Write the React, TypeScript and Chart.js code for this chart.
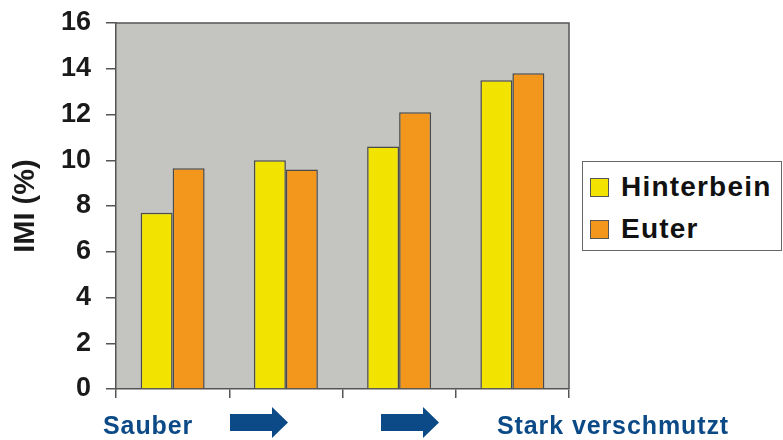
import React, { useEffect, useRef } from "react";
import { Chart, registerables } from "chart.js";

Chart.register(...registerables);

const categories = ["1", "2", "3", "4"];
const hinterbein = [7.7, 10.0, 10.6, 13.5];
const euter = [9.65, 9.6, 12.1, 13.8];
const seriesNames = ["Hinterbein", "Euter"];
const seriesColors = ["#f2e400", "#f2961c"];
const yMin = 0;
const yMax = 16;
const yStep = 2;
const yTitle = "IMI (%)";
const startLabel = "Sauber";
const endLabel = "Stark verschmutzt";

const FONT = "'Liberation Sans', Arial, Helvetica, sans-serif";
const BLUE = "#0b4a86";
const AXIS = "#555555";

const plotFrame = {
  id: "plotFrame",
  beforeDraw(chart: any) {
    const { ctx, chartArea: a } = chart;
    ctx.save();
    ctx.fillStyle = "#c4c4c0";
    ctx.fillRect(a.left, a.top, a.right - a.left, a.bottom - a.top);
    ctx.restore();
  },
  beforeDatasetsDraw(chart: any) {
    const { ctx, chartArea: a } = chart;
    ctx.save();
    ctx.strokeStyle = AXIS;
    ctx.lineWidth = 1.5;
    ctx.beginPath();
    ctx.moveTo(a.left, a.top);
    ctx.lineTo(a.right, a.top);
    ctx.lineTo(a.right, a.bottom);
    ctx.stroke();
    ctx.restore();
  },
};

function Arrow({ left }: { left: number }) {
  return (
    <svg
      style={{ position: "absolute", left, top: 407 }}
      width={60}
      height={31}
      viewBox="0 0 60 31"
    >
      <polygon points="0,7 42,7 42,0 58,15.5 42,31 42,24 0,24" fill={BLUE} />
    </svg>
  );
}

export default function App() {
  const ref = useRef<HTMLCanvasElement | null>(null);

  useEffect(() => {
    document.body.style.margin = "0";
    const canvas = ref.current;
    if (!canvas) return;
    const chart = new Chart(canvas, {
      type: "bar",
      data: {
        labels: categories,
        datasets: [
          {
            label: seriesNames[0],
            data: hinterbein,
            backgroundColor: seriesColors[0],
            borderColor: "#4a4a4a",
            borderWidth: 1.5,
          },
          {
            label: seriesNames[1],
            data: euter,
            backgroundColor: seriesColors[1],
            borderColor: "#4a4a4a",
            borderWidth: 1.5,
          },
        ],
      },
      options: {
        responsive: false,
        animation: false,
        devicePixelRatio: 1,
        datasets: {
          bar: { categoryPercentage: 0.565, barPercentage: 1 },
        },
        layout: { padding: { top: 23, right: 214, bottom: 0, left: 0 } },
        plugins: {
          legend: { display: false },
          tooltip: { enabled: false },
        },
        scales: {
          x: {
            grid: {
              offset: true,
              drawOnChartArea: false,
              tickLength: 9,
              color: AXIS,
              lineWidth: 1.5,
            },
            border: { display: true, color: AXIS, width: 1.5 },
            ticks: { display: false },
            afterFit(scale: any) {
              scale.height = 51;
              scale.paddingLeft = 0;
              scale.paddingRight = 0;
            },
          },
          y: {
            min: yMin,
            max: yMax,
            ticks: {
              stepSize: yStep,
              padding: 15,
              color: "#1a1a1a",
              font: { family: FONT, size: 27, weight: "bold" },
            },
            grid: {
              drawOnChartArea: false,
              tickLength: 10,
              color: AXIS,
              lineWidth: 1.5,
            },
            border: { display: true, color: AXIS, width: 1.5 },
            title: {
              display: true,
              text: yTitle,
              color: "#1a1a1a",
              padding: { top: 9, bottom: 0 },
              font: { family: FONT, size: 29, weight: "bold" },
            },
            afterFit(scale: any) {
              scale.width = 116;
              scale.paddingTop = 0;
              scale.paddingBottom = 0;
            },
          },
        },
      },
      plugins: [plotFrame],
    });
    return () => chart.destroy();
  }, []);

  const blueText: React.CSSProperties = {
    position: "absolute",
    top: 410,
    color: BLUE,
    fontFamily: FONT,
    fontWeight: "bold",
    fontSize: 25,
    lineHeight: "30px",
    letterSpacing: "0.9px",
    whiteSpace: "nowrap",
  };

  return (
    <div
      style={{
        position: "fixed",
        left: 0,
        top: 0,
        width: 783,
        height: 440,
        background: "#ffffff",
        overflow: "hidden",
      }}
    >
      <canvas ref={ref} width={783} height={440} style={{ position: "absolute", left: 0, top: 0 }} />
      <div
        style={{
          position: "absolute",
          left: 582,
          top: 161,
          width: 198,
          height: 88,
          border: "1.5px solid #666",
          background: "#fff",
          fontFamily: FONT,
          fontWeight: "bold",
          fontSize: 28,
          color: "#111",
        }}
      >
        {seriesNames.map((name, i) => (
          <div
            key={name}
            style={{
              position: "absolute",
              left: 7,
              top: 10 + i * 42,
              display: "flex",
              alignItems: "center",
              height: 30,
              letterSpacing: "1.2px",
            }}
          >
            <span
              style={{
                display: "inline-block",
                width: 17,
                height: 17,
                background: seriesColors[i],
                border: "1.5px solid #555",
                marginRight: 12,
              }}
            />
            {name}
          </div>
        ))}
      </div>
      <div style={{ ...blueText, left: 103 }}>{startLabel}</div>
      <Arrow left={230} />
      <Arrow left={381} />
      <div style={{ ...blueText, left: 497 }}>{endLabel}</div>
    </div>
  );
}
